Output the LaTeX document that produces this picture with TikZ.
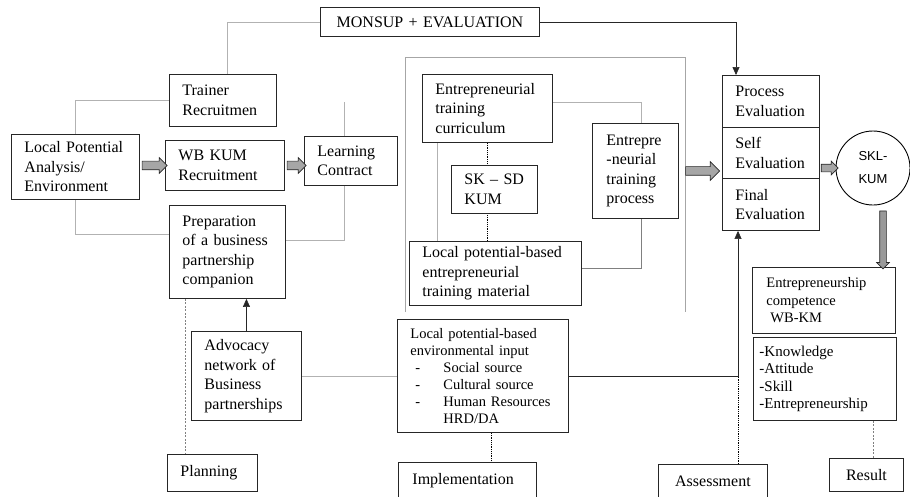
\documentclass[tikz,border=0pt]{standalone}
\usepackage{fontspec}
\setmainfont{Liberation Serif}
\setsansfont{Liberation Sans}
\usetikzlibrary{shapes.arrows,arrows.meta,calc,backgrounds}
\newcommand{\envitem}{\makebox[33pt][l]{\hspace*{5pt}-}}

\begin{document}
\begin{tikzpicture}[x=1pt,y=-1pt,
        box/.style={draw=black!85, line width=0.9pt, fill=white, anchor=north west, align=left,
            inner xsep=13pt, inner ysep=2pt, font=\fontsize{16}{19.5}\selectfont},
        link/.style={draw=gray!60, line width=0.6pt},
        arrowline/.style={draw=black!85, line width=0.6pt, -{Triangle[length=8pt,width=7pt]}},
        dots/.style={draw=black, line width=0.8pt, densely dotted},
        gdash/.style={draw=gray, line width=0.6pt, dash pattern=on 2pt off 1.5pt},
        fat/.style n args={3}{single arrow, draw=black!85, line width=0.7pt, fill=gray!70,
            minimum height=#1, inner xsep=0pt, inner ysep=#2, single arrow head extend=#3}
    ]
        \useasboundingbox (0,0) rectangle (910,496);

        % planning
        \node[box, align=center, text width=193pt, minimum height=29pt] (monsup) at (320,7) {MONSUP + EVALUATION};
        \node[box, text width=81pt, minimum height=52pt] (trainer) at (169,74) {Trainer\\Recruitmen};
        \node[box, text width=102pt, minimum height=65pt] (local) at (11,134) {Local Potential\\Analysis/\\Environment};
        \node[box, text width=93pt, minimum height=50pt] (wb) at (165,140) {WB KUM\\Recruitment};
        \node[box, text width=67pt, minimum height=49pt] (learn) at (304,136) {Learning\\Contract};
        \node[box, text width=90pt, minimum height=93pt] (prep) at (169,205) {Preparation\\of a business\\partnership\\companion};
        \node[box, text width=84pt, minimum height=89pt] (advo) at (191,331) {Advocacy\\network of\\Business\\partnerships};
        \node[box, text width=64pt, minimum height=37pt] (plan) at (167,454) {Planning};

        % implementation
        \node[box, text width=104pt, minimum height=68pt] (curr) at (422,74) {Entrepreneurial\\training\\curriculum};
        \node[box, text width=60pt, minimum height=48pt] (sksd) at (451,165) {SK -- SD\\KUM};
        \node[box, text width=146pt, minimum height=64pt, inner xsep=13pt] (mat) at (409,241) {Local potential-based\\entrepreneurial\\training material};
        \node[box, text width=58pt, minimum height=95pt, inner xsep=14pt] (proc) at (592,123) {Entrepre\\-neurial\\training\\process};
        \node[box, text width=145pt, minimum height=113pt, font=\fontsize{14.5}{17}\selectfont] (envin) at (397,319)
            {Local potential-based\\environmental input\\\envitem Social source\\\envitem Cultural source\\\envitem Human Resources\\\makebox[33pt]{}HRD/DA};
        \node[box, text width=110pt, minimum height=36pt, inner xsep=14pt] (impl) at (398,462) {Implementation};

        % assessment
        \node[box, text width=71pt, minimum height=52pt] (evp) at (722,75) {Process\\Evaluation};
        \node[box, text width=71pt, minimum height=51pt] (evs) at (722,127) {Self\\Evaluation};
        \node[box, text width=71pt, minimum height=52pt] (evf) at (722,178) {Final\\Evaluation};
        \node[box, align=center, text width=83pt, minimum height=34pt] (assess) at (658,464) {Assessment};

        % result
        \node[circle, draw=black, line width=0.9pt, fill=white, minimum size=74pt, inner sep=0pt, align=center,
            font=\sffamily\fontsize{13}{23}\selectfont] (skl) at (873,168) {SKL-\\KUM};
        \node[box, text width=115pt, minimum height=66pt, inner xsep=14pt, font=\fontsize{14.5}{17.5}\selectfont] (comp) at (752,267)
            {Entrepreneurship\\competence\\\hspace*{4pt}WB-KM};
        \node[box, text width=131pt, minimum height=83pt, inner xsep=6pt, font=\fontsize{15}{17.5}\selectfont] (list) at (753,337)
            {-Knowledge\\-Attitude\\-Skill\\-Entrepreneurship};
        \node[box, align=center, text width=48pt, minimum height=33pt] (result) at (829,458) {Result};

        % fat arrows
        \node[fat={25pt}{4pt}{3.5pt}] (a1) at ($(local.east |- wb.east)!0.5!(wb.west)$) {};
        \node[fat={19pt}{4pt}{3.5pt}] (a2) at ($(wb.east)!0.5!(wb.east -| learn.west)$) {};
        \node[fat={34pt}{4pt}{5pt}] (a3) at ($(proc.east)!0.5!(proc.east -| evs.west)$) {};
        \node[fat={17pt}{3.5pt}{3pt}] (a4) at ($(skl.west -| evs.east)!0.5!(skl.west)$) {};
        \coordinate (sd) at ($(skl.south)+(10,4)$);
        \node[fat={58pt}{0pt}{3pt}, inner xsep=3pt, fill=gray!80, shape border rotate=270] (a5) at ($(sd)!0.5!(sd |- comp.north)$) {};

        \coordinate (lc) at ($(learn.north west)+(40,-34)$);
        \coordinate (evb) at ([xshift=16pt]evf.south west);
        \coordinate (ed) at ($(envin.south west)+(94,0)$);
        \coordinate (pd) at ($(prep.south west)+(16,0)$);
        \coordinate (rd) at ([xshift=7pt]result.north);

        \begin{scope}[on background layer]
            \draw[link, draw=gray!70] (405,312) |- (685,57) -- (685,312);
            \draw[link] (monsup.west) -| ([xshift=4pt]trainer.north);
            \draw[arrowline] (monsup.east) -| ([xshift=14pt]evp.north west);
            \draw[link] (trainer.west) -| (local.north);
            \draw[link] (local.south) |- ($(prep.north west)+(0,29)$);
            \draw[link] ($(prep.north east)+(0,35)$) -| (lc);
            \draw[link] ($(curr.north east)+(0,28)$) -| ([xshift=6pt]proc.north);
            \draw[link] ($(curr.south west)+(15,0)$) -- ($(mat.north west)+(28,0)$);
            \draw[link, draw=gray] ($(mat.north east)+(0,27)$) -| ([xshift=6pt]proc.south);
            \draw[link] (advo.east) -- (envin.west);
            \draw[arrowline] (envin.east) -| (evb);
            \draw[arrowline] (advo.north) -- (advo.north |- prep.south);
            \draw[dots] (curr.south) -- (curr.south |- mat.north);
            \draw[dots] (ed) -- (ed |- impl.north);
            \draw[dots] (evb |- assess.north) -- (evb |- envin.east);
            \draw[gdash] (pd) -- (pd |- plan.north);
            \draw[gdash] (rd |- list.south) -- (rd);
        \end{scope}
    \end{tikzpicture}
\end{document}
